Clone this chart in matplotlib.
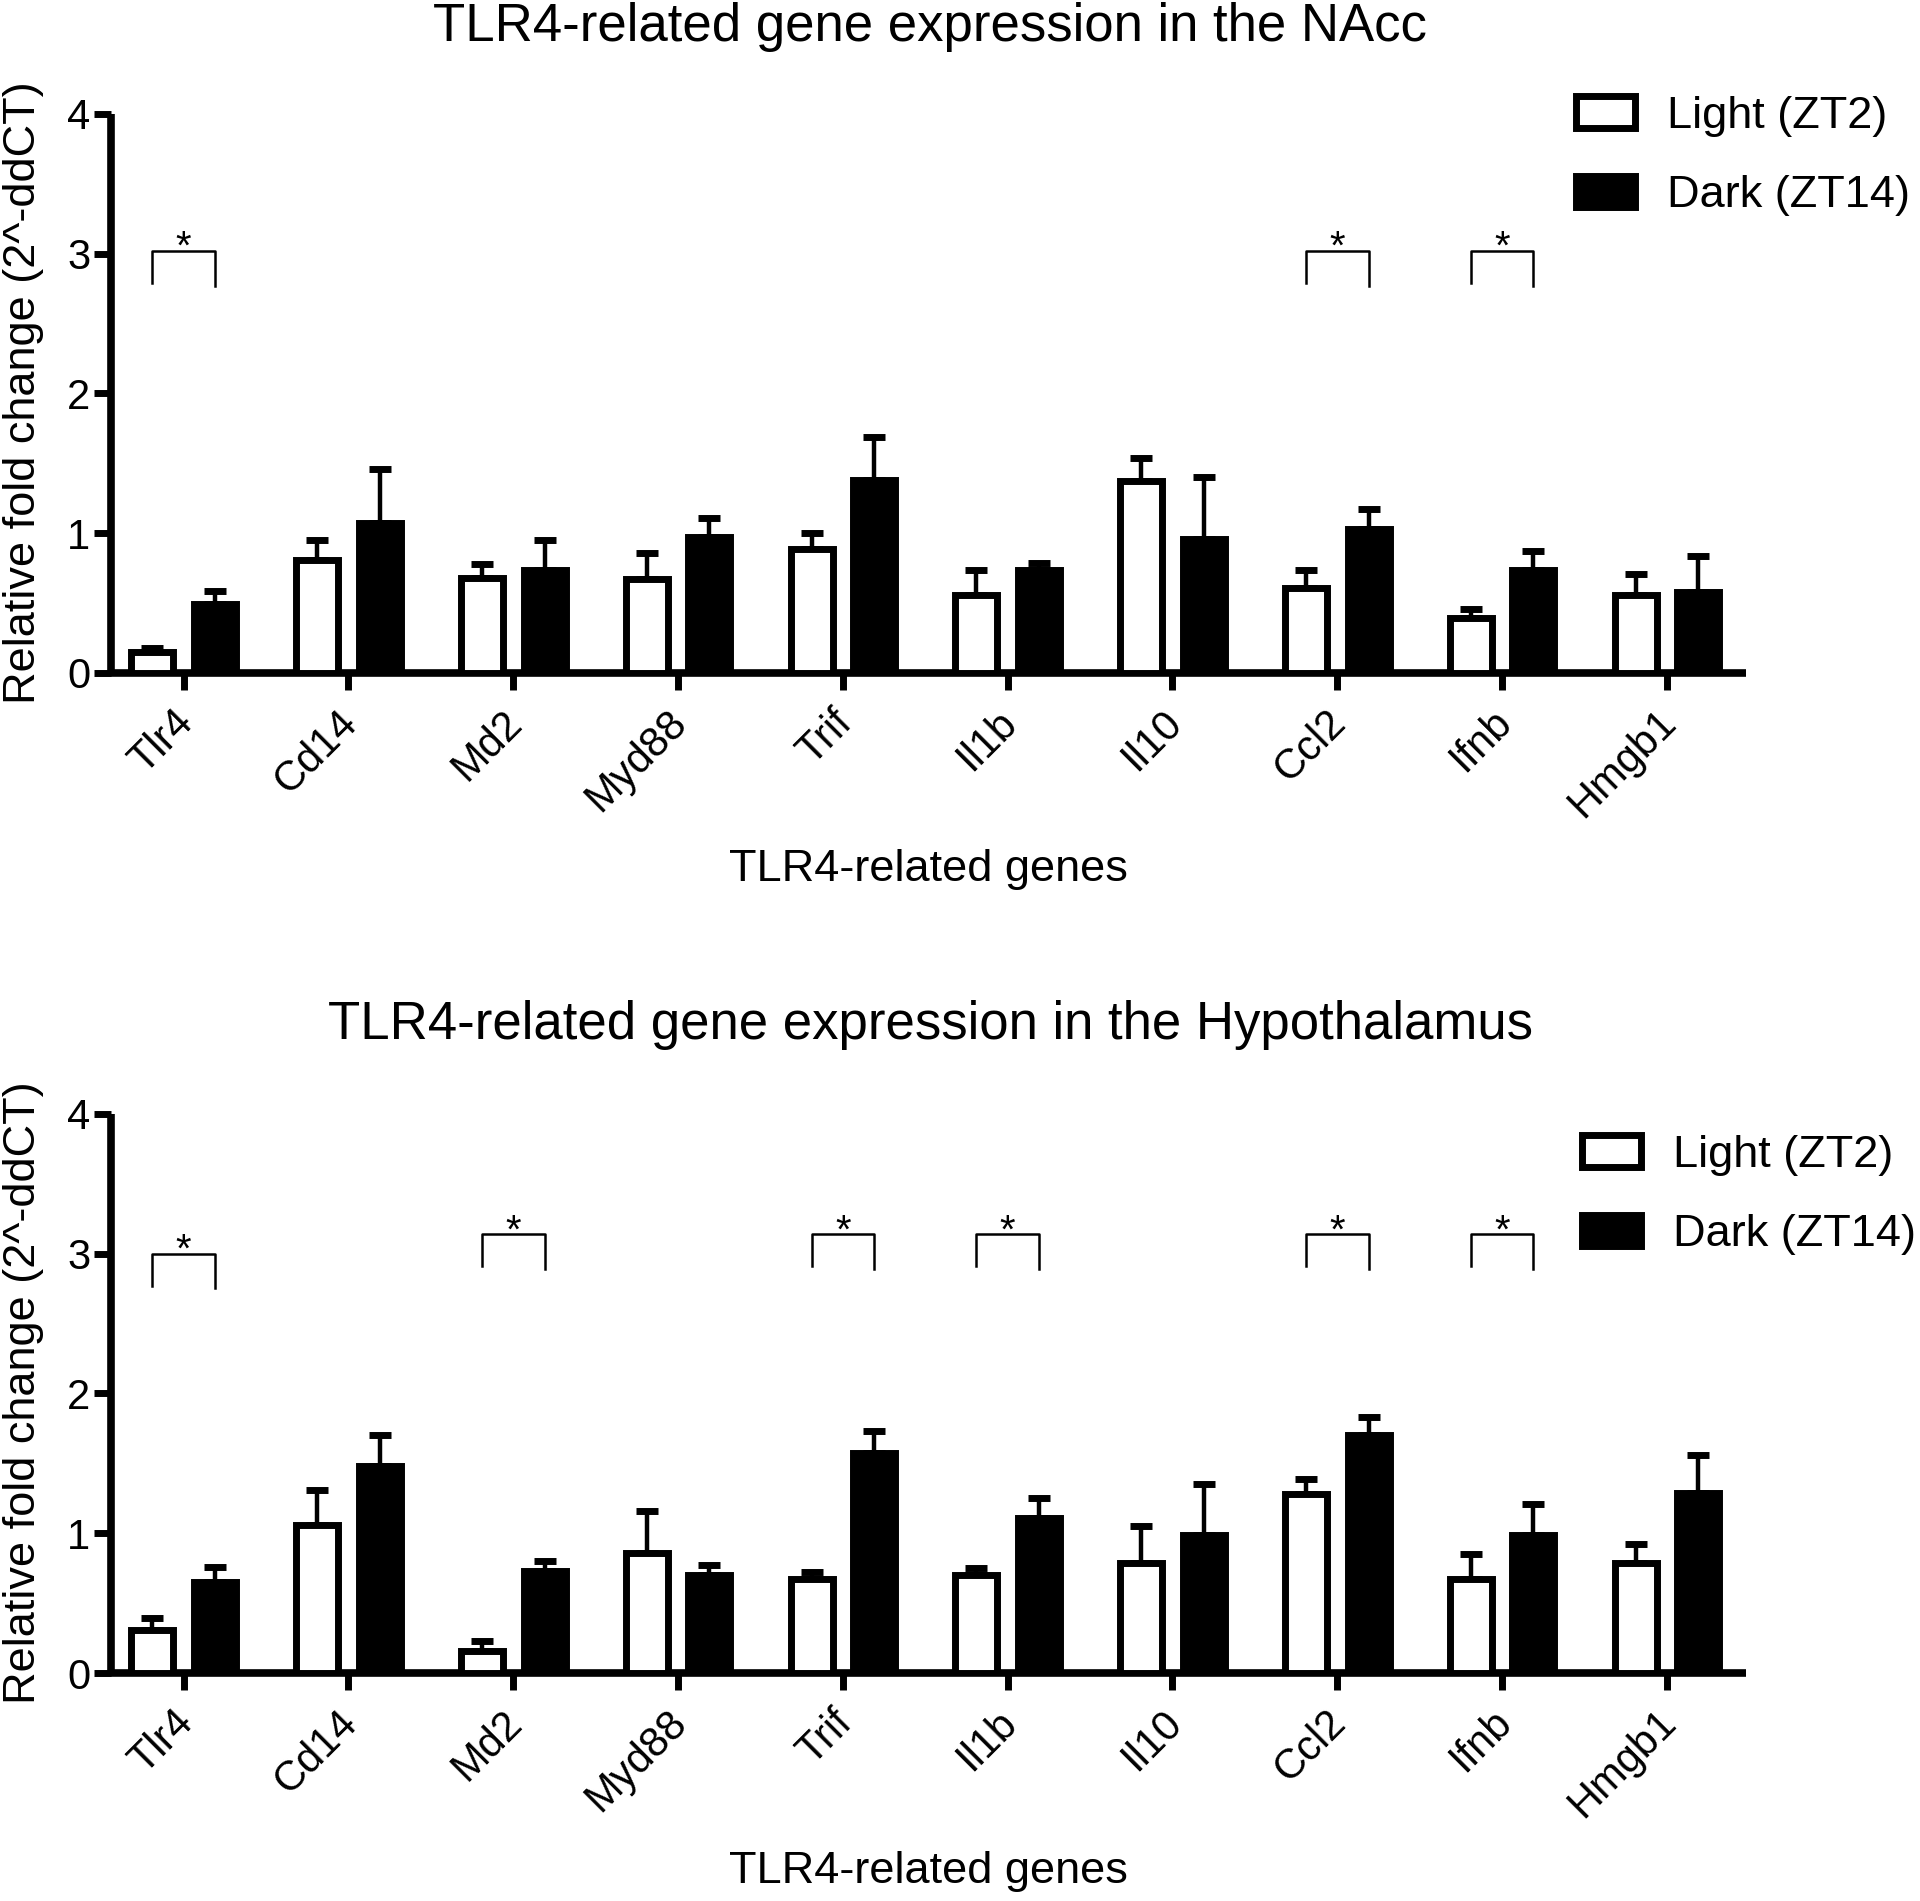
import matplotlib.pyplot as plt
from matplotlib.patches import Patch

plt.rcParams['font.family'] = ['Liberation Sans', 'DejaVu Sans']

genes = ['Tlr4', 'Cd14', 'Md2', 'Myd88', 'Trif', 'Il1b', 'Il10', 'Ccl2', 'Ifnb', 'Hmgb1']

# NAcc
nacc_light = [0.15, 0.81, 0.68, 0.67, 0.89, 0.56, 1.37, 0.61, 0.39, 0.56]
nacc_light_err = [0.03, 0.14, 0.10, 0.19, 0.11, 0.18, 0.17, 0.13, 0.07, 0.15]
nacc_dark = [0.49, 1.07, 0.74, 0.97, 1.38, 0.74, 0.96, 1.03, 0.74, 0.58]
nacc_dark_err = [0.10, 0.39, 0.21, 0.14, 0.31, 0.05, 0.44, 0.14, 0.13, 0.26]
nacc_sig = [('Tlr4', 3.02), ('Ccl2', 3.02), ('Ifnb', 3.02)]

# Hypothalamus
hyp_light = [0.31, 1.06, 0.16, 0.86, 0.67, 0.70, 0.79, 1.28, 0.67, 0.79]
hyp_light_err = [0.08, 0.25, 0.07, 0.30, 0.05, 0.05, 0.26, 0.11, 0.18, 0.13]
hyp_dark = [0.65, 1.48, 0.73, 0.70, 1.57, 1.11, 0.99, 1.70, 0.99, 1.29]
hyp_dark_err = [0.11, 0.22, 0.07, 0.07, 0.16, 0.14, 0.36, 0.13, 0.22, 0.27]
hyp_sig = [('Tlr4', 3.0), ('Md2', 3.14), ('Trif', 3.14), ('Il1b', 3.14), ('Ccl2', 3.14), ('Ifnb', 3.14)]

W, H = 1920, 1901
TICK_FS = 30
LAB_FS = 32.5
TITLE_FS = 38
off = 0.19
bw = 0.254


def draw_panel(ax, light, light_err, dark, dark_err, sig):
    x = list(range(len(genes)))
    xl = [i - off for i in x]
    xd = [i + off for i in x]
    ax.bar(xl, light, bw, color='white', edgecolor='black', linewidth=5, zorder=3)
    ax.bar(xd, dark, bw, color='black', edgecolor='black', linewidth=5, zorder=3)
    ax.errorbar(xl, light, yerr=[[0] * len(x), light_err], fmt='none', ecolor='black',
                elinewidth=3.2, capsize=8, capthick=5, zorder=2)
    ax.errorbar(xd, dark, yerr=[[0] * len(x), dark_err], fmt='none', ecolor='black',
                elinewidth=3.2, capsize=8, capthick=5, zorder=2)
    for g, h in sig:
        i = genes.index(g)
        ax.plot([i - off, i - off, i + off, i + off], [h - 0.23, h, h, h - 0.25],
                color='black', lw=1.8, zorder=4)
        ax.text(i, h - 0.06, '*', ha='center', va='baseline', fontsize=29)

    ax.set_xlim(-0.441, 9.48)
    ax.set_ylim(0, 4)
    ax.set_yticks([0, 1, 2, 3, 4])
    ax.set_xticks(x)
    ax.set_xticklabels(genes, rotation=45, ha='right', va='center_baseline',
                       rotation_mode='anchor')
    ax.tick_params(axis='both', labelsize=TICK_FS, width=5, length=12)
    ax.tick_params(axis='y', pad=3)
    ax.tick_params(axis='x', pad=17)
    for s in ['top', 'right']:
        ax.spines[s].set_visible(False)
    for s in ['left', 'bottom']:
        ax.spines[s].set_linewidth(5.5)
        ax.spines[s].set_capstyle('butt')


fig = plt.figure(figsize=(W / 100, H / 100), dpi=100)

ax1 = fig.add_axes([111 / W, 1 - 673 / H, (1746 - 111) / W, 559.3 / H])
draw_panel(ax1, nacc_light, nacc_light_err, nacc_dark, nacc_dark_err, nacc_sig)
ax2 = fig.add_axes([111 / W, 1 - 1673 / H, (1746 - 111) / W, 559.3 / H])
draw_panel(ax2, hyp_light, hyp_light_err, hyp_dark, hyp_dark_err, hyp_sig)

handles = [Patch(facecolor='white', edgecolor='black', linewidth=5, label='Light (ZT2)'),
           Patch(facecolor='black', edgecolor='black', linewidth=5, label='Dark (ZT14)')]
for ax, lx, ty in [(ax1, 1576, 96), (ax2, 1582, 1135)]:
    ax.legend(handles=handles, loc='upper left', bbox_to_anchor=(lx / W, 1 - ty / H),
              bbox_transform=fig.transFigure, frameon=False, fontsize=LAB_FS,
              handlelength=1.3, handleheight=0.7, handletextpad=0.72,
              labelspacing=0.85, borderpad=0, borderaxespad=0)

fig.text(930 / W, 1 - 27 / H, 'TLR4-related gene expression in the NAcc',
         ha='center', va='center', fontsize=TITLE_FS)
fig.text(930 / W, 1 - 1025 / H, 'TLR4-related gene expression in the Hypothalamus',
         ha='center', va='center', fontsize=TITLE_FS)
fig.text(928 / W, 1 - 869 / H, 'TLR4-related genes', ha='center', va='center', fontsize=LAB_FS)
fig.text(928 / W, 1 - 1871 / H, 'TLR4-related genes', ha='center', va='center', fontsize=LAB_FS)
fig.text(24 / W, 1 - 393 / H, 'Relative fold change (2^-ddCT)', rotation=90,
         ha='center', va='center', fontsize=LAB_FS)
fig.text(24 / W, 1 - 1393 / H, 'Relative fold change (2^-ddCT)', rotation=90,
         ha='center', va='center', fontsize=LAB_FS)

fig.savefig('out.png', dpi=100)
